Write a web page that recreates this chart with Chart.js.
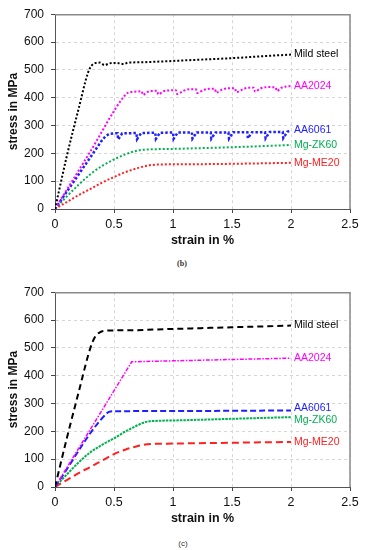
<!DOCTYPE html>
<html>
<head>
<meta charset="utf-8">
<script src="https://cdn.jsdelivr.net/npm/chart.js@4/dist/chart.umd.min.js"></script>
<style>
  body { margin: 0; background: #fff; }
  #wrap { position: relative; width: 365px; height: 550px; }
  canvas { position: absolute; left: 0; display: block; }
  .cap { position: absolute; width: 40px; text-align: center; font-size: 8px; color: #333; }
</style>
</head>
<body>
<div id="wrap">
  <canvas id="chartB" width="365" height="248" style="top:0px"></canvas>
  <div class="cap" style="left:162px; top:259px; font-family:'Liberation Serif',serif; font-weight:bold;">(b)</div>
  <canvas id="chartC" width="365" height="248" style="top:278px"></canvas>
  <div class="cap" style="left:163px; top:539px; font-family:'Liberation Sans',Arial,sans-serif;">(c)</div>
</div>
<script>
// series names / colours
var names = ['Mild steel', 'AA2024', 'AA6061', 'Mg-ZK60', 'Mg-ME20'];
var colors = ['#000000', '#ff00ff', '#1f1fff', '#00b050', '#ff2020'];

// (b) strain in %, stress in MPa
var steelB_x = [0, 0.1, 0.2, 0.28, 0.31, 0.34, 0.38, 0.42, 0.46, 0.52, 0.58, 0.62, 0.7, 0.85, 1.0, 1.2, 1.5, 1.8, 2.0];
var steelB_y = [0, 190, 360, 490, 515, 524, 526, 517, 523, 525, 521, 526, 527, 529, 532, 536, 542, 550, 555];
var aa2024B_x = [0, 0.3, 0.58, 0.62, 0.66, 0.735, 0.745, 0.78, 0.82, 0.865, 0.875, 0.92, 0.97, 1.025, 1.035, 1.09, 1.14, 1.195, 1.205, 1.26, 1.31, 1.355, 1.365, 1.42, 1.48, 1.525, 1.535, 1.6, 1.65, 1.685, 1.695, 1.74, 1.8, 1.87, 1.88, 1.92, 1.96, 2.0];
var aa2024B_y = [0, 207, 402, 418, 421, 423, 410, 420, 424, 425, 412, 423, 426, 427, 413, 425, 430, 430, 417, 428, 432, 432, 418, 430, 434, 434, 420, 432, 436, 436, 422, 433, 438, 437, 424, 436, 440, 442];
var aa6061B_x = [0, 0.2, 0.4, 0.43, 0.46, 0.5, 0.53, 0.535, 0.57, 0.69, 0.695, 0.73, 0.85, 0.855, 0.89, 1.0, 1.005, 1.04, 1.16, 1.165, 1.2, 1.32, 1.325, 1.36, 1.47, 1.475, 1.51, 1.63, 1.635, 1.67, 1.78, 1.785, 1.82, 1.93, 1.935, 1.97, 2.0];
var aa6061B_y = [0, 124, 248, 262, 270, 272, 272, 250, 272, 273, 251, 273, 274, 252, 274, 275, 252, 275, 275, 253, 275, 275, 253, 275, 275, 253, 276, 276, 254, 276, 276, 254, 277, 277, 255, 278, 280];
var zk60B_x = [0, 0.1, 0.2, 0.3, 0.4, 0.5, 0.6, 0.7, 0.8, 1.0, 1.5, 2.0];
var zk60B_y = [0, 45, 87, 125, 155, 178, 197, 210, 214, 216, 222, 230];
var me20B_x = [0, 0.1, 0.2, 0.3, 0.4, 0.5, 0.6, 0.7, 0.8, 0.9, 1.2, 1.6, 2.0];
var me20B_y = [0, 25, 50, 72, 95, 115, 133, 147, 157, 160, 161, 163, 166];

// (c)
var steelC_x = [0, 0.1, 0.2, 0.3, 0.34, 0.38, 0.44, 0.6, 1.0, 1.5, 2.0];
var steelC_y = [0, 175, 340, 500, 540, 556, 562, 563, 568, 574, 580];
var aa2024C_x = [0, 0.65, 2.0];
var aa2024C_y = [0, 450, 463];
var aa6061C_x = [0, 0.44, 0.47, 0.5, 1.0, 2.0];
var aa6061C_y = [0, 265, 271, 272, 273, 275];
var zk60C_x = [0, 0.1, 0.2, 0.3, 0.4, 0.5, 0.6, 0.7, 0.75, 0.8, 1.0, 1.5, 2.0];
var zk60C_y = [0, 45, 88, 125, 152, 175, 200, 222, 231, 236, 239, 245, 251];
var me20C_x = [0, 0.1, 0.2, 0.3, 0.4, 0.5, 0.6, 0.7, 0.75, 0.85, 1.0, 1.5, 2.0];
var me20C_y = [0, 25, 50, 72, 95, 118, 135, 147, 152, 155, 156, 159, 162];

var xTicks = [0, 0.5, 1, 1.5, 2, 2.5];
var yTicks = [0, 100, 200, 300, 400, 500, 600, 700];

const FONT = "'Liberation Sans', Arial, sans-serif";

function pts(xs, ys) {
  return xs.map((x, i) => ({ x: x, y: ys[i] }));
}

// names at the end of every line + grey frame on top/right
const endLabels = {
  id: 'endLabels',
  beforeDatasetsDraw(chart) {
    const a = chart.chartArea, ctx = chart.ctx;
    ctx.save();
    ctx.strokeStyle = '#8a8a8a';
    ctx.lineWidth = 1.5;
    ctx.beginPath();
    ctx.moveTo(a.left, a.top + 0.5);
    ctx.lineTo(a.right, a.top + 0.5);
    ctx.lineTo(a.right, a.bottom);
    ctx.stroke();
    ctx.restore();
  },
  afterDatasetsDraw(chart) {
    const ctx = chart.ctx, sx = chart.scales.x, sy = chart.scales.y;
    ctx.save();
    ctx.font = '10.5px ' + FONT;
    ctx.textBaseline = 'middle';
    chart.data.datasets.forEach((ds) => {
      const p = ds.data[ds.data.length - 1];
      ctx.fillStyle = ds.borderColor;
      ctx.fillText(ds.label, sx.getPixelForValue(p.x) + 3, sy.getPixelForValue(p.y) + ds.labelShift);
    });
    ctx.restore();
  }
};

function makeChart(id, series, dashes, widths, smooth, shifts) {
  new Chart(document.getElementById(id), {
    type: 'line',
    data: {
      datasets: series.map((s, i) => ({
        label: names[i],
        data: s,
        borderColor: colors[i],
        borderWidth: widths[i],
        borderDash: dashes[i],
        pointRadius: 0,
        fill: false,
        tension: 0,
        cubicInterpolationMode: smooth[i] ? 'monotone' : 'default',
        labelShift: shifts[i]
      }))
    },
    options: {
      responsive: false,
      animation: false,
      layout: { padding: { top: 10, right: 15, left: 0, bottom: 0 } },
      plugins: { legend: { display: false }, tooltip: { enabled: false } },
      scales: {
        x: {
          type: 'linear', min: 0, max: 2.5,
          afterBuildTicks: (s) => { s.ticks = xTicks.map(v => ({ value: v })); },
          afterFit: (s) => { s.height = 39; },
          ticks: { color: '#111', font: { family: FONT, size: 12.5 }, padding: 4, callback: (v) => v },
          grid: { color: '#d6d6d6', tickLength: 4, tickColor: '#444' },
          border: { color: '#555', width: 1, dash: [3, 3] },
          title: { display: true, text: 'strain in %', color: '#111', padding: 0,
                   font: { family: FONT, size: 12.5, weight: 'bold' } }
        },
        y: {
          min: 0, max: 700,
          afterBuildTicks: (s) => { s.ticks = yTicks.map(v => ({ value: v })); },
          afterFit: (s) => { s.width = 55; },
          ticks: { color: '#111', font: { family: FONT, size: 12 }, padding: 7 },
          grid: { color: '#d6d6d6', tickLength: 4, tickColor: '#444' },
          border: { color: '#555', width: 1, dash: [3, 3] },
          title: { display: true, text: 'stress in MPa', color: '#111', padding: { top: 6, bottom: 0 },
                   font: { family: FONT, size: 12, weight: 'bold' } }
        }
      }
    },
    plugins: [endLabels]
  });
}

makeChart('chartB',
  [pts(steelB_x, steelB_y), pts(aa2024B_x, aa2024B_y), pts(aa6061B_x, aa6061B_y), pts(zk60B_x, zk60B_y), pts(me20B_x, me20B_y)],
  [[2, 2], [2, 2], [2.5, 2], [2, 2], [2, 2]],
  [2, 2, 2.5, 2, 2],
  [true, true, false, true, true],
  [0, 0, -1, 0, 0]);

makeChart('chartC',
  [pts(steelC_x, steelC_y), pts(aa2024C_x, aa2024C_y), pts(aa6061C_x, aa6061C_y), pts(zk60C_x, zk60C_y), pts(me20C_x, me20C_y)],
  [[6, 4], [4, 1.5, 1.5, 1.5], [6, 3], [2.5, 1], [7, 4]],
  [2, 1.5, 2, 2, 2],
  [true, false, true, true, true],
  [0, 0, -2, 3, 0]);
</script>
</body>
</html>
